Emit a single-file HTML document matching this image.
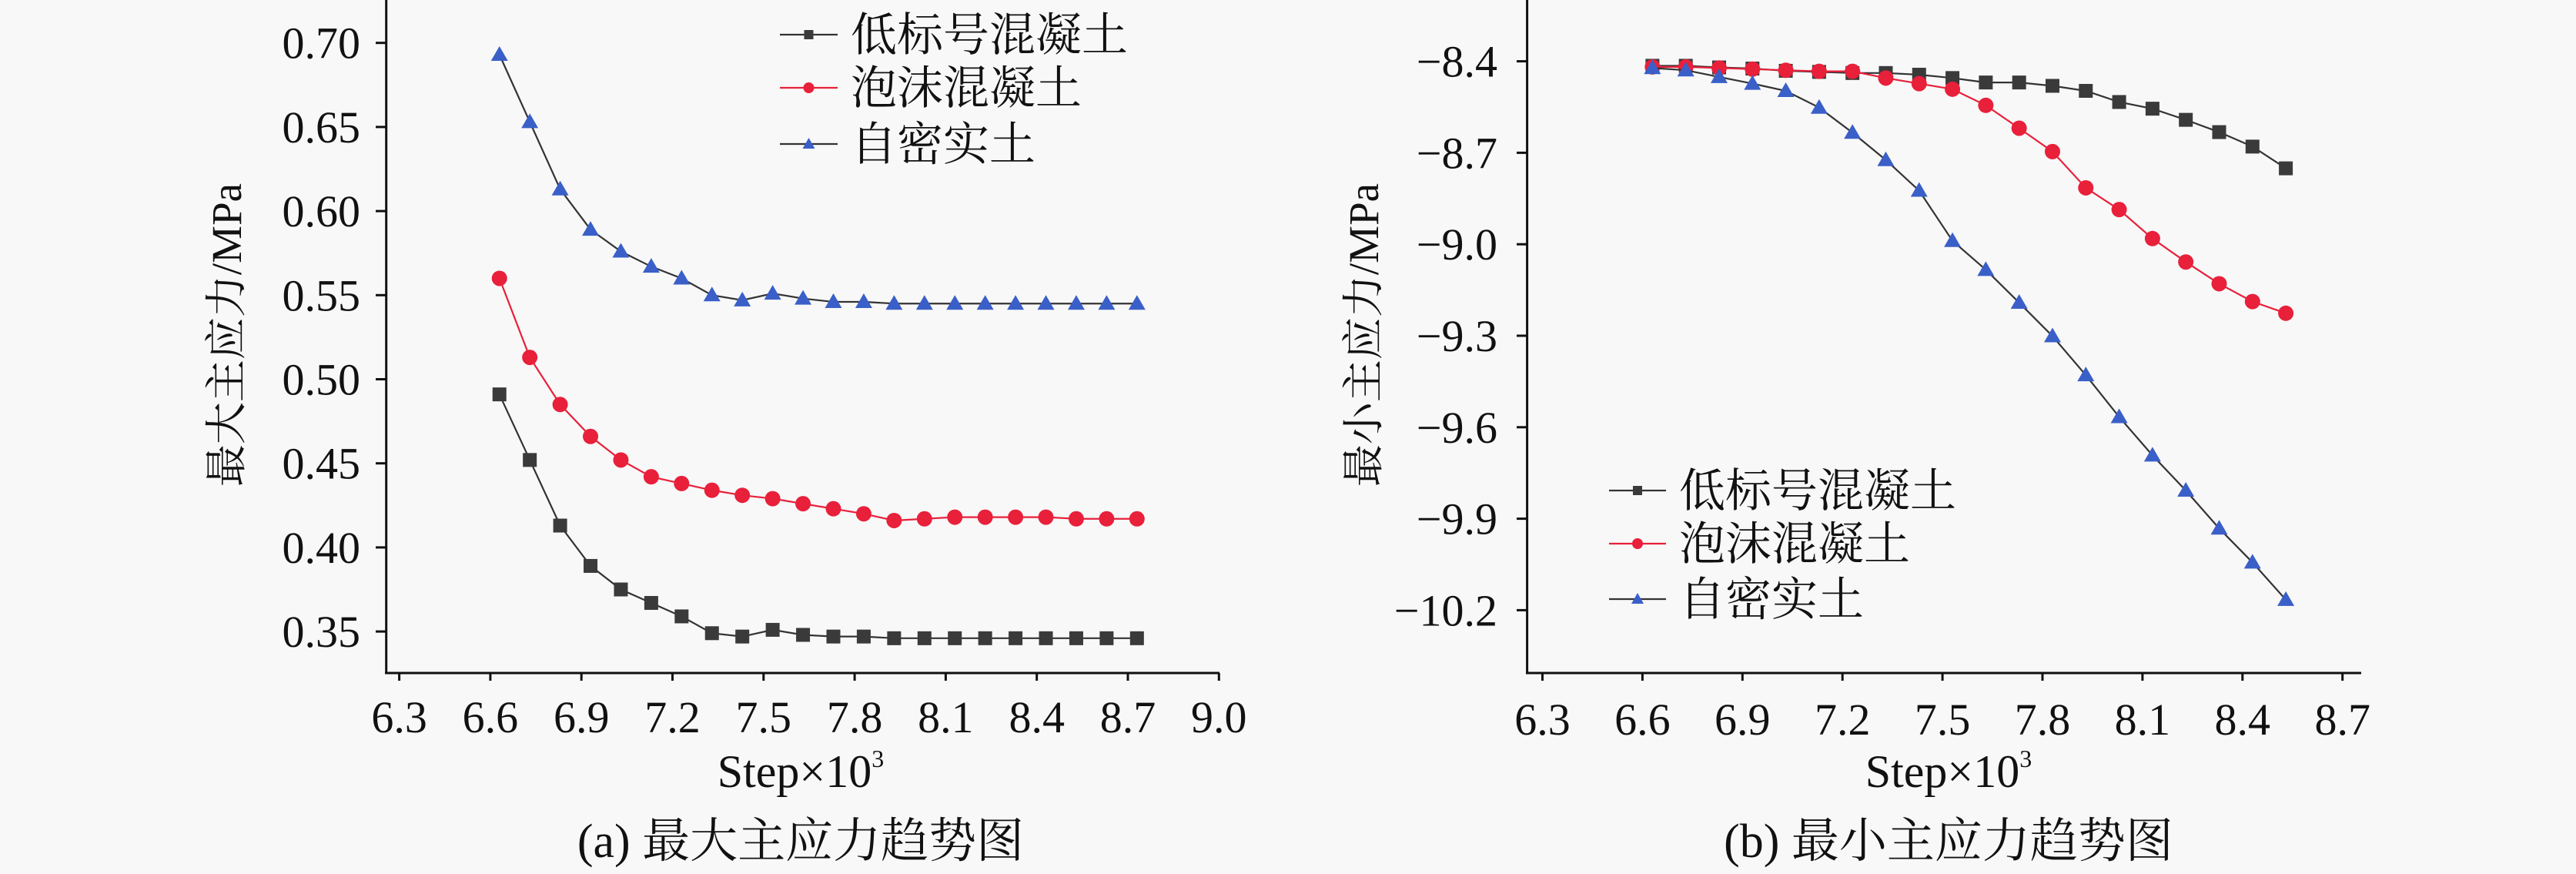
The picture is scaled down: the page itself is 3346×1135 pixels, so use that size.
<!DOCTYPE html>
<html><head><meta charset="utf-8">
<style>
html,body{margin:0;padding:0;background:#f8f8f8;}
svg{display:block;}
text{font-family:"Liberation Serif","Noto Serif CJK SC",serif;fill:#111;}
</style></head>
<body>
<svg id="s" width="3346" height="1135" viewBox="0 0 3346 1135" xmlns="http://www.w3.org/2000/svg">
<rect width="3346" height="1135" fill="#f8f8f8"/>
<g id="g"></g>
<line x1="501.7" y1="0" x2="501.7" y2="874" stroke="#111" stroke-width="3"/>
<line x1="500" y1="874" x2="1584" y2="874" stroke="#111" stroke-width="3"/>
<line x1="1983.6" y1="0" x2="1983.6" y2="874" stroke="#111" stroke-width="3"/>
<line x1="1982" y1="874" x2="3067" y2="874" stroke="#111" stroke-width="3"/>
<text x="1040" y="1022" font-size="60" text-anchor="middle">Step×10<tspan font-size="32" dy="-26">3</tspan></text>
<text x="1040" y="1113" font-size="62" text-anchor="middle">(a) 最大主应力趋势图</text>
<text x="2531" y="1022" font-size="60" text-anchor="middle">Step×10<tspan font-size="32" dy="-26">3</tspan></text>
<text x="2531" y="1113" font-size="62" text-anchor="middle">(b) 最小主应力趋势图</text>
<text transform="translate(313,435) rotate(-90)" font-size="55" text-anchor="middle">最大主应力/MPa</text>
<text transform="translate(1790,435) rotate(-90)" font-size="55" text-anchor="middle">最小主应力/MPa</text>
</svg>
<script>
const g=document.getElementById('g');const NS="http://www.w3.org/2000/svg";
function el(t,a,txt){const e=document.createElementNS(NS,t);for(const k in a)e.setAttribute(k,a[k]);if(txt!==undefined)e.textContent=txt;g.appendChild(e);return e;}
const C={k:'#3a3a3a',r:'#e8203a',b:'#3a5fc8'};
function marker(type,x,y){
 if(type==='k')el('rect',{x:x-9,y:y-9,width:18,height:18,fill:C.k});
 else if(type==='r')el('circle',{cx:x,cy:y,r:10,fill:C.r});
 else el('polygon',{points:`${x},${y-11} ${x-11},${y+8} ${x+11},${y+8}`,fill:C.b});
}
function series(type,pts){
 el('polyline',{points:pts.map(p=>p.join(',')).join(' '),fill:'none',stroke:type==='r'?C.r:'#333',"stroke-width":2.2});
 pts.forEach(p=>marker(type,p[0],p[1]));
}
const LX=v=>518.6+(v-6.3)/0.3*118.3, LY=v=>55.7+(0.70-v)/0.05*109.2;
['6.3','6.6','6.9','7.2','7.5','7.8','8.1','8.4','8.7','9.0'].forEach(t=>{const x=LX(+t);el('line',{x1:x,y1:874,x2:x,y2:884,stroke:'#111','stroke-width':3});el('text',{x:x,y:951,'font-size':58,'text-anchor':'middle'},t);});
['0.70','0.65','0.60','0.55','0.50','0.45','0.40','0.35'].forEach(t=>{const y=LY(+t);el('line',{x1:488,y1:y,x2:502,y2:y,stroke:'#111','stroke-width':3});el('text',{x:468,y:y+20,'font-size':58,'text-anchor':'end'},t);});
const Lk=[.491,.452,.413,.389,.375,.367,.359,.349,.347,.351,.348,.347,.347,.346,.346,.346,.346,.346,.346,.346,.346,.346];
const Lr=[.560,.513,.485,.466,.452,.442,.438,.434,.431,.429,.426,.423,.420,.416,.417,.418,.418,.418,.418,.417,.417,.417];
const Lb=[.693,.653,.613,.589,.576,.567,.560,.550,.547,.551,.548,.546,.546,.545,.545,.545,.545,.545,.545,.545,.545,.545];
series('k',Lk.map((v,i)=>[LX(6.63+0.1*i),LY(v)]));
series('r',Lr.map((v,i)=>[LX(6.63+0.1*i),LY(v)]));
series('b',Lb.map((v,i)=>[LX(6.63+0.1*i),LY(v)]));
const RX=v=>2003.5+(v-6.3)/0.3*129.9, RYo=yo=>yo/1.3815;
['6.3','6.6','6.9','7.2','7.5','7.8','8.1','8.4','8.7'].forEach(t=>{const x=RX(+t);el('line',{x1:x,y1:874,x2:x,y2:884,stroke:'#111','stroke-width':3});el('text',{x:x,y:954,'font-size':58,'text-anchor':'middle'},t);});
['−8.4','−8.7','−9.0','−9.3','−9.6','−9.9','−10.2'].forEach((t,i)=>{const y=79.6+i*118.8;el('line',{x1:1970,y1:y,x2:1984,y2:y,stroke:'#111','stroke-width':3});el('text',{x:1945,y:y+20,'font-size':58,'text-anchor':'end'},t);});
const Rk=[118,118,121,123,127,129,131,131,134,140,148,148,154,163,183,195,215,237,263,302];
const Rr=[120,120,122,124,126,128,128,140,150,160,189,230,272,337,376,428,470,509,541,562];
const Rb=[122,126,138,150,163,193,238,287,342,432,484,543,603,673,748,817,880,948,1009,1076];
series('k',Rk.map((v,i)=>[RX(6.63+0.1*i),RYo(v)]));
series('r',Rr.map((v,i)=>[RX(6.63+0.1*i),RYo(v)]));
series('b',Rb.map((v,i)=>[RX(6.63+0.1*i),RYo(v)]));
function legend(x1,x2,tx,ys){
 const names=['低标号混凝土','泡沫混凝土','自密实土'],ts=['k','r','b'];
 ys.forEach((y,i)=>{el('line',{x1:x1,y1:y,x2:x2,y2:y,stroke:ts[i]==='r'?C.r:'#333','stroke-width':2.2});
  const m=(x1+x2)/2;
  if(ts[i]==='k')el('rect',{x:m-6,y:y-6,width:12,height:12,fill:C.k});
  else if(ts[i]==='r')el('circle',{cx:m,cy:y,r:7,fill:C.r});
  else el('polygon',{points:`${m},${y-8} ${m-8},${y+6} ${m+8},${y+6}`,fill:C.b});
  el('text',{x:tx,y:y+21,'font-size':60},names[i]);});
}
legend(1013,1088,1105,[45,114,187]);
legend(2090,2164,2181,[637,706,778]);
</script>
</body></html>
